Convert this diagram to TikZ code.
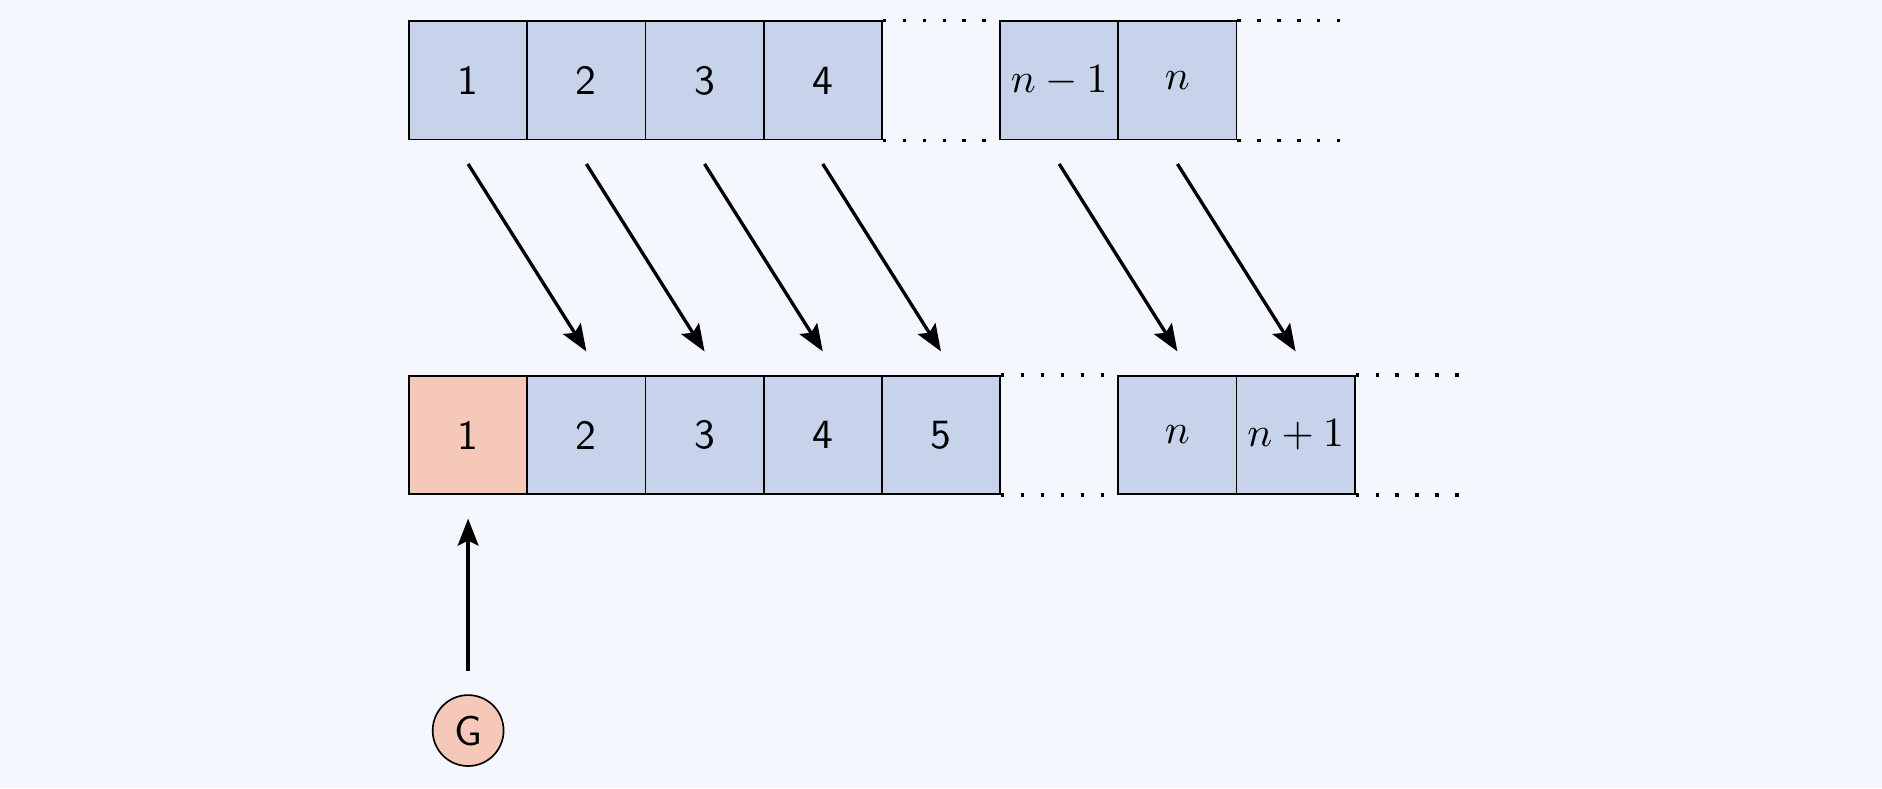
\documentclass[tikz,border=0pt]{standalone}
\usepackage{amsmath}
\usepackage{tikz}
\usetikzlibrary{calc,arrows.meta}

\definecolor{bgblue}{RGB}{244,248,254}
\definecolor{cellblue}{RGB}{198,211,234}
\definecolor{cellred}{RGB}{246,200,186}

\begin{document}
\begin{tikzpicture}[
    cell/.style={rectangle, draw=black, fill=cellblue, minimum size=1cm, inner sep=0pt, font=\sffamily},
    hot/.style={cell, fill=cellred},
    gap/.style={loosely dotted, thick},
    moveto/.style={-{Stealth[length=6.5pt, width=5pt, inset=1.2pt]}, thick}
    ]
    \fill[bgblue] (-3.46,-5.99) rectangle (12.46,0.68);
    
    \node[cell] (t1) at (0.5,0) {1};
    \node[cell] (t2) at ($(t1) + (1,0)$) {2};
    \node[cell] (t3) at ($(t2) + (1,0)$) {3};
    \node[cell] (t4) at ($(t3) + (1,0)$) {4};
    
    \node[cell] (tm) at ($(t4) + (2,0)$) {$n-1$};
    \node[cell] (tn) at ($(tm) + (1,0)$) {$n$};
    
    \node[hot] (b1) at ($(t1) + (0,-3)$) {1};
    \node[cell] (b2) at ($(b1) + (1,0)$) {2};
    \node[cell] (b3) at ($(b2) + (1,0)$) {3};
    \node[cell] (b4) at ($(b3) + (1,0)$) {4};
    \node[cell] (b5) at ($(b4) + (1,0)$) {5};
    
    \node[cell] (bn) at ($(b5) + (2,0)$) {$n$};
    \node[cell] (bp) at ($(bn) + (1,0)$) {$n+1$};
    
    \node[circle, fill=cellred, draw=black, minimum size=0.6cm, inner sep=0pt, font=\sffamily] (g) at ($(b1) + (0,-2.5)$) {G};
    
    \coordinate (tna) at ($(tn.north east) + (1,0)$);
    \coordinate (tnb) at ($(tn.south east) + (1,0)$);
    \coordinate (bpa) at ($(bp.north east) + (1,0)$);
    \coordinate (bpb) at ($(bp.south east) + (1,0)$);
    
    \draw[gap] (t4.north east) -- (tm.north west);
    \draw[gap] (t4.south east) -- (tm.south west);
    \draw[gap] (tn.north east) -- (tna);
    \draw[gap] (tn.south east) -- (tnb);
    
    \draw[gap] (b5.north east) -- (bn.north west);
    \draw[gap] (b5.south east) -- (bn.south west);
    \draw[gap] (bp.north east) -- (bpa);
    \draw[gap] (bp.south east) -- (bpb);
    
    \draw[moveto] ($(t1.south) + (0,-0.2)$) -- ($(b2.north) + (0,0.2)$);
    \draw[moveto] ($(t2.south) + (0,-0.2)$) -- ($(b3.north) + (0,0.2)$);
    \draw[moveto] ($(t3.south) + (0,-0.2)$) -- ($(b4.north) + (0,0.2)$);
    \draw[moveto] ($(t4.south) + (0,-0.2)$) -- ($(b5.north) + (0,0.2)$);
    \draw[moveto] ($(tm.south) + (0,-0.2)$) -- ($(bn.north) + (0,0.2)$);
    \draw[moveto] ($(tn.south) + (0,-0.2)$) -- ($(bp.north) + (0,0.2)$);
    
    \draw[moveto] ($(g.north) + (0,0.2)$) -- ($(b1.south) + (0,-0.2)$);
    
\end{tikzpicture}
\end{document}
